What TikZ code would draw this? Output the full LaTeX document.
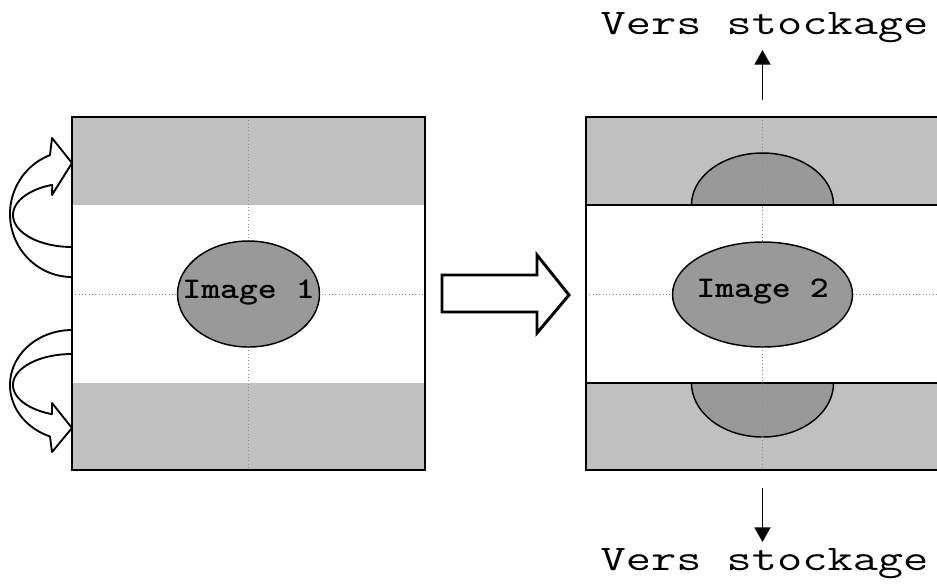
\documentclass[tikz,border=0pt]{standalone}
\usepackage{fontspec}
\usetikzlibrary{shapes.geometric,arrows.meta}
\definecolor{bandgray}{HTML}{C0C0C0}
\definecolor{ellgray}{HTML}{999999}
\definecolor{dotgray}{HTML}{8C8C8C}
\newcommand{\storelabel}{\scalebox{1.36}[1]{\ttfamily\fontsize{27}{27}\selectfont Vers stockage}}
\newcommand{\imglabel}[1]{\scalebox{1.2}[1]{\ttfamily\bfseries\fontsize{22.5}{23}\selectfont Image #1}}
\begin{document}
\begin{tikzpicture}[x=0.75pt,y=-0.75pt,
  boxline/.style={line width=1.6pt},
  dotline/.style={dotgray,line width=0.5pt,dotted},
  ell/.style={ellipse,draw,fill=ellgray,line width=1.1pt,inner sep=0pt},
  imgtext/.style={inner sep=0pt,anchor=base},
  halfell/.style={fill=ellgray,draw,line width=1.1pt},
  carrow/.style={draw,fill=white,line width=1.4pt,line join=round},
  bigarrow/.style={draw,fill=white,line width=2.2pt,line join=miter},
  storetext/.style={inner sep=0pt,anchor=base},
  storearrow/.style={line width=1.4pt,-{Triangle[length=11pt,width=12pt]}}]
\useasboundingbox (0,0) rectangle (937,583);
\clip (0,0) rectangle (937,583);

% ---------- left box ----------
\fill[white] (72,117) rectangle (425,470);
\fill[bandgray] (72,117) rectangle (425,205);
\fill[bandgray] (72,383) rectangle (425,470);
\draw[dotline] (248.5,117) -- (248.5,470);
\draw[dotline] (72,294) -- (425,294);
\draw[boxline] (72,117) rectangle (425,470);
\node[ell,minimum width=106.5pt,minimum height=79.5pt] (e1) at (248.5,294) {};
\node[imgtext] (l1) at (248.5,298) {\imglabel{1}};

% ---------- curved arrows ----------
\path[carrow] plot[domain=90:249.2,samples=60] ({72+62*cos(\x)},{214+63*sin(\x)})
  -- (52,138) -- (72,163) -- (52,195)
  -- plot[domain=250.5:90,samples=60] ({72+59*cos(\x)},{215+32*sin(\x)}) -- cycle;
\path[carrow] plot[domain=270:110.8,samples=60] ({72+62*cos(\x)},{385+55*sin(\x)})
  -- (52,452) -- (72,428) -- (52,403)
  -- plot[domain=109.8:270,samples=60] ({72+59*cos(\x)},{385+31*sin(\x)}) -- cycle;

% ---------- big hollow arrow ----------
\path[bigarrow] (442,275) -- (537,275) -- (537,255) -- (569,295) -- (537,333)
  -- (537,312) -- (442,312) -- cycle;

% ---------- right box ----------
\fill[white] (586,117) rectangle (945,470);
\fill[bandgray] (586,117) rectangle (945,205);
\fill[bandgray] (586,383) rectangle (945,470);
\path[halfell] plot[domain=180:360,samples=80] ({762.5+71*cos(\x)},{205+52*sin(\x)}) -- cycle;
\path[halfell] plot[domain=0:180,samples=80] ({762.5+71*cos(\x)},{383+54*sin(\x)}) -- cycle;
\draw[dotline] (762.5,117) -- (762.5,470);
\draw[dotline] (586,294) -- (945,294);
\draw[boxline] (586,205) -- (945,205);
\draw[boxline] (586,383) -- (945,383);
\draw[boxline] (586,117) rectangle (945,470);
\node[ell,minimum width=135pt,minimum height=78.75pt] (e2) at (762.5,294.5) {};
\node[imgtext] (l2) at (762.5,297) {\imglabel{2}};

% ---------- storage arrows ----------
\node[storetext] (vt) at (764.5,34) {\storelabel};
\node[storetext] (vb) at (764.5,570) {\storelabel};
\coordinate (t1) at (762.5,100);
\coordinate (t2) at (762.5,50);
\coordinate (b1) at (762.5,488);
\coordinate (b2) at (762.5,542);
\draw[storearrow] (t1) -- (t2);
\draw[storearrow] (b1) -- (b2);
\end{tikzpicture}
\end{document}
